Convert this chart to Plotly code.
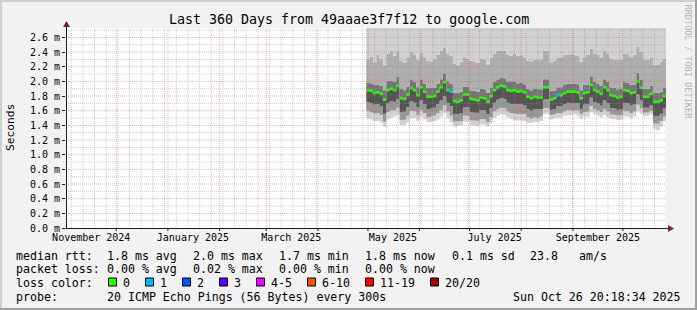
import plotly.graph_objects as go
import pandas as pd

# ---------------- data ----------------
TITLE = "Last 360 Days from 49aaae3f7f12 to google.com"
range_start = "2024-10-31 20:18:34"
range_end = "2025-10-26 20:18:34"
data_start = "2025-04-30"
step_days = 2

median_ms = [1.88, 1.87, 1.84, 1.85, 1.83, 1.75, 1.88, 1.90, 1.88, 1.94,
             1.77, 1.76, 1.82, 1.91, 1.88, 1.81, 1.92, 1.86, 1.79, 1.79,
             1.80, 1.86, 1.92, 1.99, 1.88, 1.86, 1.73, 1.72, 1.74, 1.82,
             1.82, 1.76, 1.75, 1.74, 1.78, 1.77, 1.72, 1.80, 1.88, 1.92,
             1.94, 1.93, 1.88, 1.87, 1.88, 1.86, 1.87, 1.85, 1.79, 1.77,
             1.79, 1.78, 1.78, 1.92, 1.92, 1.75, 1.77, 1.81, 1.81, 1.84,
             1.86, 1.86, 1.86, 1.85, 1.77, 1.84, 1.85, 1.95, 1.88, 1.86,
             1.83, 1.92, 1.88, 1.81, 1.80, 1.78, 1.79, 1.88, 1.87, 1.84,
             1.85, 2.00, 1.91, 1.79, 1.79, 1.83, 1.72, 1.72, 1.74, 1.80]

loss_pings = [0, 0, 0, 0, 0, 0, 0, 0, 0, 0,
              0, 0, 0, 0, 0, 0, 0, 0, 0, 0,
              0, 0, 0, 0, 0, 1, 0, 0, 0, 0,
              0, 0, 0, 0, 0, 0, 0, 0, 0, 0,
              0, 0, 0, 0, 0, 0, 0, 0, 0, 0,
              0, 0, 0, 0, 0, 0, 0, 1, 0, 0,
              0, 0, 0, 0, 0, 0, 0, 0, 0, 0,
              0, 0, 0, 0, 0, 0, 0, 0, 0, 0,
              0, 0, 0, 0, 0, 0, 0, 0, 0, 0]

# smoke: ping distribution boundaries (ms)
smoke_lo3 = [1.50, 1.48, 1.46, 1.46, 1.44, 1.38, 1.48, 1.50, 1.52, 1.54,
             1.40, 1.41, 1.44, 1.50, 1.50, 1.46, 1.52, 1.48, 1.44, 1.45,
             1.46, 1.48, 1.52, 1.57, 1.50, 1.44, 1.38, 1.39, 1.40, 1.45,
             1.45, 1.40, 1.39, 1.39, 1.42, 1.41, 1.38, 1.44, 1.50, 1.53,
             1.55, 1.54, 1.51, 1.49, 1.47, 1.46, 1.47, 1.46, 1.44, 1.43,
             1.45, 1.44, 1.46, 1.55, 1.56, 1.48, 1.50, 1.51, 1.51, 1.53,
             1.54, 1.54, 1.55, 1.53, 1.49, 1.52, 1.52, 1.58, 1.55, 1.53,
             1.51, 1.54, 1.51, 1.49, 1.48, 1.47, 1.48, 1.52, 1.52, 1.50,
             1.52, 1.59, 1.56, 1.52, 1.53, 1.55, 1.35, 1.33, 1.38, 1.45]
smoke_lo2 = [1.60, 1.58, 1.56, 1.57, 1.54, 1.45, 1.58, 1.60, 1.61, 1.64,
             1.47, 1.48, 1.53, 1.60, 1.59, 1.54, 1.61, 1.57, 1.51, 1.52,
             1.53, 1.57, 1.61, 1.67, 1.59, 1.53, 1.45, 1.45, 1.46, 1.53,
             1.53, 1.47, 1.46, 1.46, 1.49, 1.48, 1.44, 1.51, 1.59, 1.62,
             1.64, 1.63, 1.59, 1.57, 1.56, 1.55, 1.56, 1.55, 1.51, 1.49,
             1.51, 1.50, 1.52, 1.63, 1.64, 1.54, 1.55, 1.57, 1.57, 1.59,
             1.61, 1.61, 1.61, 1.60, 1.55, 1.58, 1.59, 1.66, 1.62, 1.60,
             1.58, 1.62, 1.59, 1.55, 1.54, 1.53, 1.54, 1.60, 1.59, 1.57,
             1.59, 1.68, 1.63, 1.57, 1.58, 1.60, 1.43, 1.42, 1.46, 1.52]
smoke_lo1 = [1.72, 1.70, 1.68, 1.69, 1.66, 1.56, 1.70, 1.73, 1.72, 1.76,
             1.58, 1.59, 1.65, 1.73, 1.71, 1.65, 1.74, 1.69, 1.62, 1.63,
             1.64, 1.69, 1.74, 1.80, 1.71, 1.66, 1.55, 1.55, 1.57, 1.64,
             1.65, 1.58, 1.57, 1.57, 1.61, 1.60, 1.55, 1.63, 1.71, 1.75,
             1.77, 1.76, 1.71, 1.69, 1.69, 1.68, 1.69, 1.67, 1.62, 1.60,
             1.62, 1.61, 1.62, 1.75, 1.76, 1.61, 1.62, 1.66, 1.66, 1.69,
             1.71, 1.71, 1.71, 1.70, 1.62, 1.68, 1.69, 1.78, 1.72, 1.70,
             1.67, 1.74, 1.70, 1.64, 1.63, 1.61, 1.62, 1.71, 1.70, 1.67,
             1.69, 1.82, 1.74, 1.64, 1.64, 1.67, 1.53, 1.52, 1.56, 1.63]
smoke_hi1 = [1.98, 1.97, 1.95, 1.96, 1.94, 1.88, 2.00, 2.01, 1.99, 2.06,
             1.90, 1.88, 1.93, 2.02, 1.99, 1.92, 2.03, 1.97, 1.91, 1.90,
             1.91, 1.97, 2.03, 2.10, 2.00, 1.97, 1.85, 1.84, 1.86, 1.93,
             1.93, 1.88, 1.87, 1.86, 1.90, 1.89, 1.84, 1.91, 1.99, 2.03,
             2.05, 2.04, 1.99, 1.98, 1.99, 1.97, 1.98, 1.96, 1.90, 1.88,
             1.90, 1.89, 1.89, 2.03, 2.03, 1.87, 1.88, 1.92, 1.92, 1.95,
             1.97, 1.97, 1.97, 1.96, 1.88, 1.95, 1.96, 2.07, 1.99, 1.97,
             1.94, 2.03, 1.99, 1.92, 1.91, 1.89, 1.90, 1.99, 1.98, 1.95,
             1.96, 2.12, 2.02, 1.90, 1.90, 1.94, 1.84, 1.84, 1.86, 1.91]
smoke_hi2 = [2.30, 2.34, 2.26, 2.36, 2.31, 2.22, 2.38, 2.42, 2.35, 2.41,
             2.28, 2.25, 2.33, 2.40, 2.36, 2.30, 2.39, 2.33, 2.28, 2.27,
             2.31, 2.36, 2.42, 2.46, 2.38, 2.35, 2.24, 2.22, 2.27, 2.33,
             2.31, 2.28, 2.27, 2.25, 2.31, 2.29, 2.23, 2.32, 2.38, 2.42,
             2.43, 2.42, 2.37, 2.35, 2.38, 2.35, 2.36, 2.33, 2.28, 2.27,
             2.29, 2.28, 2.29, 2.42, 2.41, 2.26, 2.28, 2.32, 2.32, 2.36,
             2.36, 2.38, 2.36, 2.35, 2.27, 2.33, 2.36, 2.45, 2.38, 2.36,
             2.33, 2.42, 2.38, 2.31, 2.29, 2.28, 2.29, 2.38, 2.37, 2.33,
             2.36, 2.47, 2.40, 2.29, 2.29, 2.33, 2.23, 2.23, 2.27, 2.31]
smoke_hi3 = [2.80, 2.85, 2.90, 2.95, 2.90, 2.85, 3.00, 2.95, 2.90, 3.00,
             2.90, 2.85, 2.90, 2.95, 2.90, 2.85, 2.95, 2.90, 2.85, 2.85,
             2.90, 2.95, 3.00, 3.00, 2.95, 2.90, 2.85, 2.85, 2.90, 2.90,
             2.90, 2.85, 2.85, 2.85, 2.90, 2.85, 2.80, 2.90, 2.95, 3.00,
             3.00, 3.00, 2.95, 2.95, 2.95, 2.90, 2.90, 2.90, 2.85, 2.85,
             2.85, 2.85, 2.90, 3.00, 3.00, 2.85, 2.85, 2.90, 2.90, 2.90,
             2.95, 2.95, 2.90, 2.90, 2.85, 2.90, 2.95, 3.00, 2.95, 2.90,
             2.90, 3.00, 2.95, 2.90, 2.85, 2.85, 2.85, 2.95, 2.95, 2.90,
             2.90, 3.00, 3.00, 2.85, 2.85, 2.90, 2.85, 2.85, 2.90, 2.90]

y_tick_vals = [0.0, 0.2, 0.4, 0.6, 0.8, 1.0, 1.2, 1.4, 1.6, 1.8, 2.0, 2.2, 2.4, 2.6]
y_tick_text = ["0.0 m", "0.2 m", "0.4 m", "0.6 m", "0.8 m", "1.0 m", "1.2 m",
               "1.4 m", "1.6 m", "1.8 m", "2.0 m", "2.2 m", "2.4 m", "2.6 m"]
x_tick_vals = ["2024-11-16", "2025-01-16", "2025-03-16", "2025-05-16",
               "2025-07-16", "2025-09-16"]
x_tick_text = ["November 2024", "January 2025", "March 2025", "May 2025",
               "July 2025", "September 2025"]

loss_labels = ["0", "1", "2", "3", "4-5", "6-10", "11-19", "20/20"]
loss_colors = ["#26ff00", "#00b8ff", "#0059ff", "#5e00ff", "#ff00ff",
               "#ff5500", "#ff0000", "#a10000"]

stats_rtt = ["1.8 ms avg", "2.0 ms max", "1.7 ms min", "1.8 ms now", "0.1 ms sd", "23.8", "am/s"]
stats_loss = ["0.00 % avg", "0.02 % max", "0.00 % min", "0.00 % now"]
probe_text = "20 ICMP Echo Pings (56 Bytes) every 300s"
timestamp = "Sun Oct 26 20:18:34 2025"

# ---------------- geometry / style ----------------
W, H = 697, 310
L, R, T, B = 66, 666, 28, 228
Y_TOP = 2.728
MONO = "DejaVu Sans Mono"


def px(x):
    return (x - L) / (R - L)


def py(y):
    return (B - y) / (B - T)


n = len(median_ms)
edges = pd.date_range(data_start, periods=n + 1, freq=f"{step_days}D")


def steps(vals):
    xs, ys = [], []
    for i, v in enumerate(vals):
        xs += [edges[i], edges[i + 1]]
        ys += [v, v]
    return xs, ys


fig = go.Figure()

layers = [
    (smoke_lo3, None),
    (smoke_lo2, "#d2d2d2"),
    (smoke_lo1, "#979797"),
    (median_ms, "#555555"),
    (smoke_hi1, "#767676"),
    (smoke_hi2, "#afafaf"),
    (smoke_hi3, "#d1d1d1"),
]
for vals, col in layers:
    xs, ys = steps(vals)
    fig.add_trace(go.Scatter(
        x=xs, y=ys, mode="lines", line=dict(width=0),
        fill=None if col is None else "tonexty",
        fillcolor=col, hoverinfo="skip", showlegend=False))


def loss_color(k):
    if k <= 0:
        return loss_colors[0]
    if k == 1:
        return loss_colors[1]
    if k == 2:
        return loss_colors[2]
    if k == 3:
        return loss_colors[3]
    if k <= 5:
        return loss_colors[4]
    if k <= 10:
        return loss_colors[5]
    if k <= 19:
        return loss_colors[6]
    return loss_colors[7]


segs = {}
for i, (m, k) in enumerate(zip(median_ms, loss_pings)):
    c = loss_color(k)
    sx, sy = segs.setdefault(c, ([], []))
    sx += [edges[i], edges[i + 1], None]
    sy += [m, m, None]
for c, (sx, sy) in segs.items():
    fig.add_trace(go.Scatter(x=sx, y=sy, mode="lines",
                             line=dict(color=c, width=2.6),
                             hoverinfo="skip", showlegend=False))

shapes = []
GRID = "rgba(143,143,143,0.45)"
MGRID = "rgba(222,79,79,0.42)"
# horizontal grid
for k in range(1, 28):
    v = k / 10
    major = (k % 2 == 0)
    shapes.append(dict(type="line", xref="paper", yref="y", x0=0, x1=1, y0=v, y1=v,
                       line=dict(color=MGRID if major else GRID, width=1, dash="1px,1px"),
                       layer="above"))
# weekly minor grid
for d in pd.date_range("2024-11-04", range_end, freq="7D"):
    shapes.append(dict(type="line", xref="x", yref="paper", x0=d, x1=d, y0=0, y1=1,
                       line=dict(color=GRID, width=1, dash="1px,1px"), layer="above"))
# monthly major grid
for d in pd.date_range("2024-12-01", range_end, freq="MS"):
    shapes.append(dict(type="line", xref="x", yref="paper", x0=d, x1=d, y0=0, y1=1,
                       line=dict(color=MGRID, width=1, dash="1px,1px"), layer="above"))
    shapes.append(dict(type="line", xref="x", yref="paper", x0=d, x1=d, y0=0, y1=py(B + 3),
                       line=dict(color="#1f1f1f", width=1), layer="above"))

AXIS = "#1f1f1f"
ARROW = "#801f1f"
shapes.append(dict(type="line", xref="paper", yref="paper", x0=px(L - 0.5), x1=px(669),
                   y0=py(B + 0.5), y1=py(B + 0.5), line=dict(color=AXIS, width=1), layer="above"))
shapes.append(dict(type="line", xref="paper", yref="paper", x0=px(L + 0.5), x1=px(L + 0.5),
                   y0=py(B + 0.5), y1=py(26), line=dict(color=AXIS, width=1), layer="above"))
shapes.append(dict(type="path", xref="paper", yref="paper",
                   path=f"M {px(668)} {py(225)} L {px(674)} {py(228.5)} L {px(668)} {py(232)} Z",
                   fillcolor=ARROW, line=dict(width=0), layer="above"))
shapes.append(dict(type="path", xref="paper", yref="paper",
                   path=f"M {px(63)} {py(27)} L {px(66.5)} {py(21)} L {px(70)} {py(27)} Z",
                   fillcolor=ARROW, line=dict(width=0), layer="above"))

# frame border
SHADE_A = "#cfcfcf"
SHADE_B = "#9e9e9e"
shapes.append(dict(type="rect", xref="paper", yref="paper", x0=px(0), x1=px(W), y0=py(0), y1=py(2),
                   fillcolor=SHADE_A, line=dict(width=0), layer="above"))
shapes.append(dict(type="rect", xref="paper", yref="paper", x0=px(0), x1=px(2), y0=py(0), y1=py(H),
                   fillcolor=SHADE_A, line=dict(width=0), layer="above"))
shapes.append(dict(type="rect", xref="paper", yref="paper", x0=px(0), x1=px(W), y0=py(H - 2), y1=py(H),
                   fillcolor=SHADE_B, line=dict(width=0), layer="above"))
shapes.append(dict(type="rect", xref="paper", yref="paper", x0=px(W - 2), x1=px(W), y0=py(0), y1=py(H),
                   fillcolor=SHADE_B, line=dict(width=0), layer="above"))

# legend boxes
box_x = [108.5, 145.5, 182.5, 219.5, 256.5, 307.5, 365.5, 430.5]
for bx, c in zip(box_x, loss_colors):
    shapes.append(dict(type="rect", xref="paper", yref="paper",
                       x0=px(bx), x1=px(bx + 8), y0=py(278), y1=py(286),
                       fillcolor=c, line=dict(color="#000000", width=1), layer="above"))

ann = []


def text(x, y, s, size=11.6, anchor="left", color="#000000", angle=0):
    ann.append(dict(xref="paper", yref="paper", x=px(x), y=py(y), text=s,
                    showarrow=False, xanchor=anchor, yanchor="middle",
                    textangle=angle, borderpad=0, borderwidth=0,
                    font=dict(family=MONO, size=size, color=color)))


text(348.5, 19.5, TITLE, size=13.3, anchor="center")
text(10, 128, "Seconds", size=11.2, anchor="center", angle=-90)
text(687.5, 62, "RRDTOOL / TOBI OETIKER", size=8.6, anchor="center", color="#b4b4b4", angle=90)

r1 = 255.5
r2 = 269
r3 = 282.5
r4 = 296.5
text(16, r1, "median rtt:")
for xx, s in zip([107, 193, 279, 365, 451.5, 530, 579], stats_rtt):
    text(xx, r1, s)
text(16, r2, "packet loss:")
for xx, s in zip([107, 193, 279, 365], stats_loss):
    text(xx, r2, s)
text(16, r3, "loss color:")
for bx, s in zip(box_x, loss_labels):
    text(bx + 14.5, r3, s)
text(16, r4, "probe:")
text(107, r4, probe_text)
text(680.5, r4, timestamp, anchor="right")

fig.update_layout(
    width=W, height=H,
    margin=dict(l=L, r=W - R, t=T, b=H - B, autoexpand=False),
    paper_bgcolor="#f2f2f2", plot_bgcolor="#ffffff",
    showlegend=False,
    shapes=shapes, annotations=ann,
    xaxis=dict(range=[range_start, range_end], type="date",
               tickvals=x_tick_vals, ticktext=x_tick_text, ticks="",
               ticklabelstandoff=2,
               showgrid=False, zeroline=False, showline=False,
               tickfont=dict(family=MONO, size=10, color="#000000")),
    yaxis=dict(range=[0, Y_TOP], tickvals=y_tick_vals, ticktext=y_tick_text,
               ticks="outside", ticklen=3, tickcolor=AXIS, tickwidth=1,
               showgrid=False, zeroline=False, showline=False,
               tickfont=dict(family=MONO, size=10, color="#000000")),
)

fig.write_html("out.html")
